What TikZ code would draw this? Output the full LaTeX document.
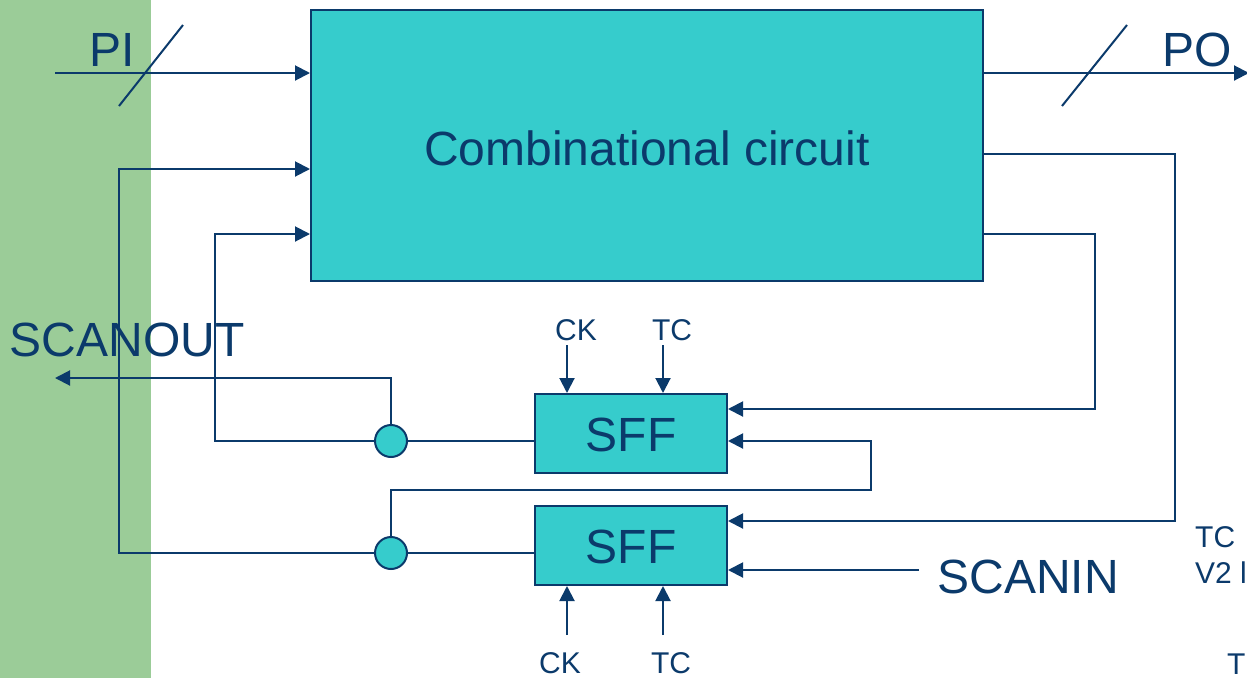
\documentclass[tikz,border=0pt]{standalone}
\usepackage{fontspec}
\setmainfont{Liberation Sans}
\usetikzlibrary{arrows.meta,calc}
\definecolor{navy}{HTML}{0B3A6B}
\definecolor{cyanf}{HTML}{36CCCC}
\definecolor{greenb}{HTML}{9BCC98}
\begin{document}
\begin{tikzpicture}[x=1pt,y=-1pt,
 wire/.style={draw=navy,line width=2pt},
 arr/.style={wire,-{Triangle[length=15pt,width=15pt]}},
 blk/.style={draw=navy,line width=2pt,fill=cyanf,inner sep=0pt},
 big/.style={text=navy,font=\fontsize{48}{48}\selectfont,inner sep=0pt,anchor=base},
 small/.style={text=navy,font=\fontsize{30}{30}\selectfont,inner sep=0pt,anchor=base},
 joint/.style={circle,draw=navy,line width=2pt,fill=cyanf,minimum size=32pt,inner sep=0pt}]
\useasboundingbox (0,0) rectangle (1247,678);
\clip (0,0) rectangle (1247,678);
\fill[greenb] (0,0) rectangle (151,678);
% blocks
\node[blk,minimum width=672pt,minimum height=271pt] (comb) at (647,145.5) {};
\node[big] (combt) at (647,165) {Combinational circuit};
\node[blk,minimum width=192pt,minimum height=79pt] (sff1) at (631,433.5) {};
\node[big] (sff1t) at (631,451) {SFF};
\node[blk,minimum width=192pt,minimum height=79pt] (sff2) at (631,545.5) {};
\node[big] (sff2t) at (631,563) {SFF};
\node[joint] (j1) at (391,441) {};
\node[joint] (j2) at (391,553) {};
% helper coordinates
\coordinate (piin) at (55,73);
\coordinate (poout) at (1249,73);
\coordinate (fb1) at (119,169);
\coordinate (fb2) at (215,234);
\coordinate (so) at (55,378);
\coordinate (ch) at (871,490);
\coordinate (r1) at (1095,234);
\coordinate (y409) at (0,409);
\coordinate (r2) at (1175,154);
\coordinate (y521) at (0,521);
\coordinate (si) at (919,570);
\coordinate (ck1) at (567,345);
\coordinate (tc1) at (663,345);
\coordinate (ck2) at (567,635);
\coordinate (tc2) at (663,635);
% PI / PO
\draw[arr] (piin) -- (comb.west |- piin);
\draw[wire] (119,106) -- (183,25);
\node[big] (pi) at (112,66) {PI};
\draw[arr] (comb.east |- poout) -- (poout);
\draw[wire] (1062,106) -- (1127,25);
\node[big] (po) at (1197,66) {PO};
% feedback into combinational circuit
\draw[arr] (j2.west) -| (fb1) -- (comb.west |- fb1);
\draw[arr] (j1.west) -| (fb2) -- (comb.west |- fb2);
% SFF outputs to joints
\draw[wire] (sff1.west |- j1) -- (j1.east);
\draw[wire] (sff2.west |- j2) -- (j2.east);
% scanout
\draw[arr] (j1.north) |- (so);
\node[big] (scanout) at (127,356) {SCANOUT};
% scan chain
\draw[arr] (j2.north) |- (ch) |- (sff1.east |- j1);
% combinational outputs to SFFs
\draw[arr] (comb.east |- r1) -- (r1) |- (sff1.east |- y409);
\draw[arr] (comb.east |- r2) -- (r2) |- (sff2.east |- y521);
% scanin
\draw[arr] (si) -- (sff2.east |- si);
\node[big] (scanin) at (1028,593) {SCANIN};
% clocks and test control
\draw[arr] (ck1) -- (sff1.north -| ck1);
\draw[arr] (tc1) -- (sff1.north -| tc1);
\node[small] (ck1t) at (576,340) {CK};
\node[small] (tc1t) at (672,340) {TC};
\draw[arr] (ck2) -- (sff2.south -| ck2);
\draw[arr] (tc2) -- (sff2.south -| tc2);
\node[small] (ck2t) at (560,673) {CK};
\node[small] (tc2t) at (671,673) {TC};
% clipped texts at the right edge
\node[small,anchor=base west] (tcr) at (1195,547) {TC};
\node[small,anchor=base west] (v2) at (1195,583) {V2 l};
\node[small,anchor=base west] (tr) at (1227,674) {T};
\end{tikzpicture}
\end{document}
